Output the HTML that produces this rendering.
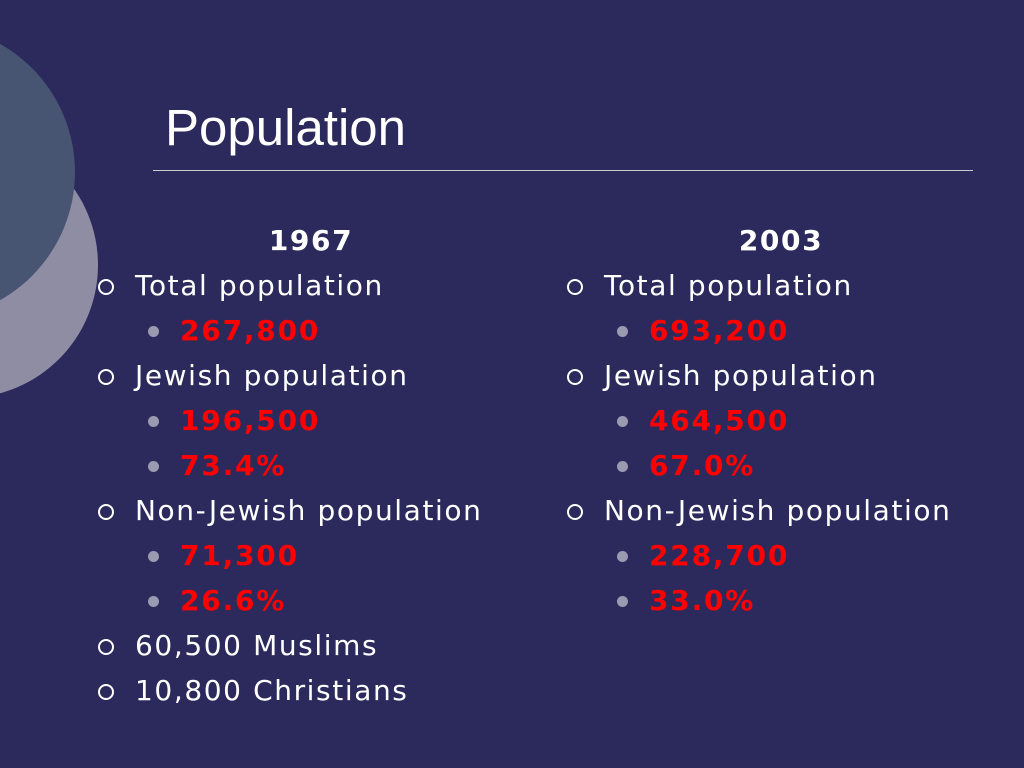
<!DOCTYPE html>
<html><head><meta charset="utf-8"><style>
body{margin:0;width:1024px;height:768px;background:#2c2a5c;overflow:hidden;position:relative;font-family:"DejaVu Sans",Verdana,sans-serif;color:#fff}
.t{position:absolute;white-space:nowrap;font-size:28px;line-height:32px;letter-spacing:1.6px}
.h{font-weight:bold;text-align:center;width:200px}
.r{color:#ff0000;font-weight:bold;letter-spacing:1.8px}
.o{position:absolute;width:12px;height:12px;border:2px solid #fff;border-radius:50%}
.d{position:absolute;width:11px;height:11px;background:#9a9ab0;border-radius:50%}
</style></head><body>
<svg style="position:absolute;left:0;top:0" width="120" height="420">
<circle cx="-35" cy="265" r="133" fill="#8e8da3"/>
<circle cx="-72" cy="172" r="147" fill="#475472"/>
</svg>
<div class="t" style="left:165px;top:98px;font-family:'Liberation Sans',sans-serif;font-size:51px;line-height:60px;letter-spacing:0">Population</div>
<div style="position:absolute;left:153px;top:170px;width:820px;height:1px;background:#ccc"></div>

<div class="t h" style="left:211px;top:225px">1967</div>
<div class="t h" style="left:681px;top:225px">2003</div>

<script>
const rows=[
[0,'Total population',false],[1,'267,800',true],[0,'Jewish population',false],[1,'196,500',true],[1,'73.4%',true],
[0,'Non-Jewish population',false],[1,'71,300',true],[1,'26.6%',true],[0,'60,500 Muslims',false],[0,'10,800 Christians',false]];
const rows2=[
[0,'Total population',false],[1,'693,200',true],[0,'Jewish population',false],[1,'464,500',true],[1,'67.0%',true],
[0,'Non-Jewish population',false],[1,'228,700',true],[1,'33.0%',true]];
function draw(list,x0,nm){
list.forEach((r,i)=>{
const y=270+i*45;
const b=document.createElement('div');
b.className=r[0]?'d':'o';
b.style.left=(r[0]?x0+50:x0)+'px';b.style.top=(r[0]?y+11:y+9)+'px';


document.body.appendChild(b);
const t=document.createElement('div');
t.className='t'+(r[2]?' r':'');
t.style.left=(r[0]?x0+82:x0+37)+'px';t.style.top=y+'px';
t.textContent=r[1];


document.body.appendChild(t);
});}
draw(rows,98,'col-1967');
draw(rows2,567,'col-2003');
</script>
</body></html>
